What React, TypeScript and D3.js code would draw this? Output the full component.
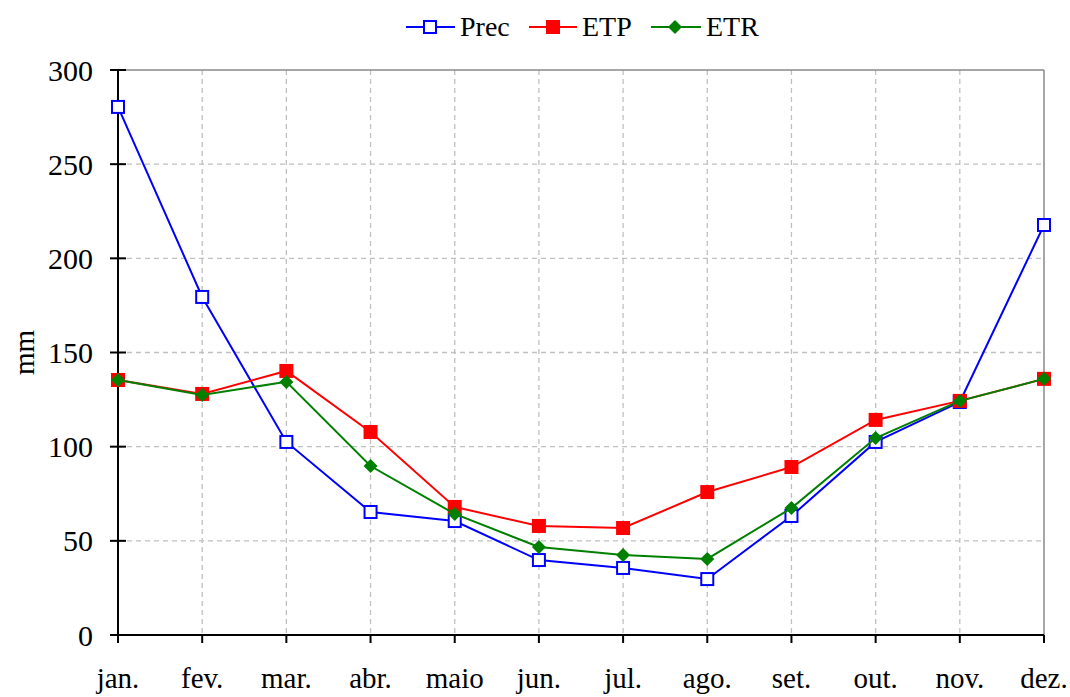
import React from "react";
import * as d3 from "d3";

const months = ["jan.", "fev.", "mar.", "abr.", "maio", "jun.", "jul.", "ago.", "set.", "out.", "nov.", "dez."];
const prec = [280.4, 179.5, 102.5, 65.3, 60.5, 39.8, 35.6, 29.7, 63.2, 102.5, 123.7, 217.7];
const etp = [135.4, 128, 140.2, 107.8, 68, 57.9, 56.8, 75.9, 89.2, 114.2, 124.3, 136];
const etr = [135.4, 127.5, 134.4, 89.7, 64.3, 46.7, 42.5, 40.4, 67.4, 104.6, 124.3, 136];
const yTicks = [0, 50, 100, 150, 200, 250, 300];

const W = 1070, H = 697;
const left = 118, right = 1044, top = 70, bottom = 635;
const font = "'Liberation Serif', 'Times New Roman', serif";

export default function App() {
  const x = d3.scalePoint<string>().domain(months).range([left, right]);
  const y = d3.scaleLinear().domain([0, 300]).range([bottom, top]);
  const line = d3.line<number>().x((_, i) => x(months[i])!).y((d) => y(d));

  return (
    <svg width={W} height={H} style={{ position: "absolute", left: 0, top: 0 }}>
      <rect width={W} height={H} fill="#fff" />
      {/* grid */}
      {yTicks.filter((t) => t > 0 && t < 300).map((t) => (
        <line key={"gy" + t} x1={left} x2={right} y1={y(t)} y2={y(t)} stroke="#c0c0c0" strokeDasharray="5,4" strokeWidth={1.3} />
      ))}
      {months.slice(1, -1).map((m) => (
        <line key={"gx" + m} x1={x(m)} x2={x(m)} y1={top} y2={bottom} stroke="#c0c0c0" strokeDasharray="5,4" strokeWidth={1.3} />
      ))}
      {/* border */}
      <line x1={left} x2={right} y1={top} y2={top} stroke="#888" strokeWidth={1.5} />
      <line x1={right} x2={right} y1={top} y2={bottom} stroke="#888" strokeWidth={1.5} />
      {/* axes */}
      <line x1={left} x2={left} y1={top} y2={bottom} stroke="#000" strokeWidth={2} />
      <line x1={left} x2={right} y1={bottom} y2={bottom} stroke="#000" strokeWidth={2} />
      {yTicks.map((t) => (
        <g key={"yt" + t}>
          <line x1={left - 8} x2={left + 8} y1={y(t)} y2={y(t)} stroke="#000" strokeWidth={2} />
          <text x={left - 25} y={y(t)} dy="0.35em" textAnchor="end" fontFamily={font} fontSize={30}>{t}</text>
        </g>
      ))}
      {months.map((m) => (
        <g key={"xt" + m}>
          <line x1={x(m)} x2={x(m)} y1={bottom} y2={bottom + 8} stroke="#000" strokeWidth={2} />
          <text x={x(m)} y={bottom + 53} textAnchor="middle" fontFamily={font} fontSize={29}>{m}</text>
        </g>
      ))}
      <text transform={`translate(34,${(top + bottom) / 2}) rotate(-90)`} textAnchor="middle" fontFamily={font} fontSize={29}>mm</text>

      {/* Prec */}
      <path d={line(prec)!} fill="none" stroke="#0000ff" strokeWidth={2} />
      {prec.map((v, i) => (
        <rect key={"p" + i} x={x(months[i])! - 6} y={y(v) - 6} width={12} height={12} fill="#fff" stroke="#0000ff" strokeWidth={2} />
      ))}
      {/* ETP */}
      <path d={line(etp)!} fill="none" stroke="#ff0000" strokeWidth={2} />
      {etp.map((v, i) => (
        <rect key={"e" + i} x={x(months[i])! - 7} y={y(v) - 7} width={14} height={14} fill="#ff0000" />
      ))}
      {/* ETR */}
      <path d={line(etr)!} fill="none" stroke="#008000" strokeWidth={2} />
      {etr.map((v, i) => (
        <path key={"r" + i} d={`M${x(months[i])},${y(v) - 7}l7,7l-7,7l-7,-7z`} fill="#008000" />
      ))}

      {/* legend */}
      <g fontFamily={font} fontSize={28}>
        <line x1={406} x2={455} y1={27} y2={27} stroke="#0000ff" strokeWidth={2} />
        <rect x={424} y={21} width={12} height={12} fill="#fff" stroke="#0000ff" strokeWidth={2} />
        <text x={460} y={36}>Prec</text>
        <line x1={529} x2={577} y1={27} y2={27} stroke="#ff0000" strokeWidth={2} />
        <rect x={546} y={20} width={14} height={14} fill="#ff0000" />
        <text x={582} y={36}>ETP</text>
        <line x1={651} x2={701} y1={27} y2={27} stroke="#008000" strokeWidth={2} />
        <path d="M675,20l7,7l-7,7l-7,-7z" fill="#008000" />
        <text x={706} y={36}>ETR</text>
      </g>
    </svg>
  );
}
